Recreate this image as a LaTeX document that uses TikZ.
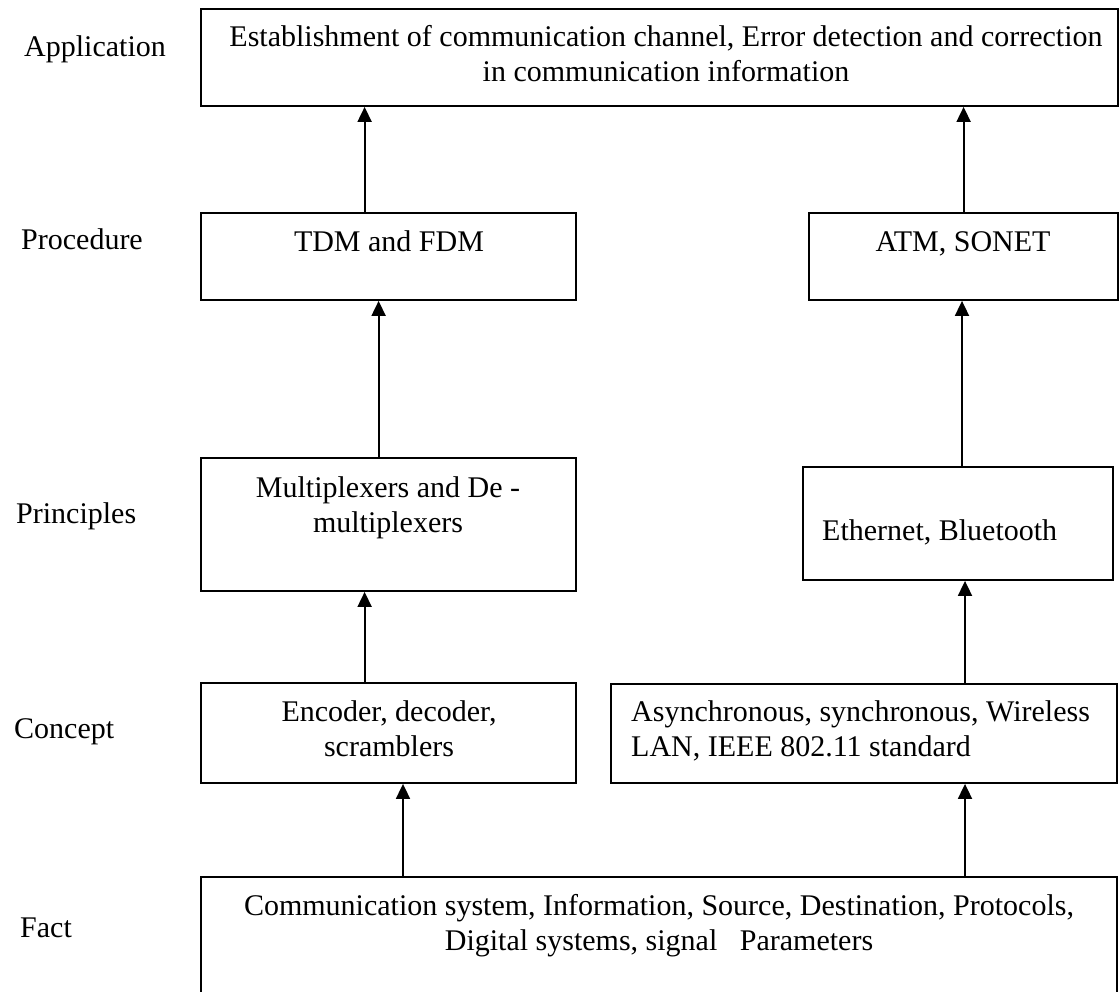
\documentclass[tikz,border=0pt]{standalone}
\usepackage{fontspec}
\setmainfont{Liberation Serif}
\usetikzlibrary{arrows.meta,fit}
\begin{document}
\begin{tikzpicture}[x=1pt,y=-1pt,
  box/.style={draw, line width=1.8pt, inner sep=0pt},
  txt/.style={font=\fontsize{30}{35}\selectfont, inner sep=0pt, align=center},
  lvl/.style={font=\fontsize{30}{35}\selectfont, inner sep=0pt, anchor=base west},
  arr/.style={-{Triangle[length=15pt,width=14pt]}, line width=1.8pt}]
\clip (0,0) rectangle (1120,992);
\fill[white] (0,0) rectangle (1120,992);

% boxes of the hierarchy
\node[box, fit={(201,9) (1118,106)}]   (app)  {};
\node[box, fit={(201,213) (576,300)}]  (tdm)  {};
\node[box, fit={(809,213) (1118,300)}] (atm)  {};
\node[box, fit={(201,458) (576,591)}]  (mux)  {};
\node[box, fit={(803,467) (1113,580)}] (eth)  {};
\node[box, fit={(201,683) (576,783)}]  (enc)  {};
\node[box, fit={(611,684) (1117,783)}] (asy)  {};
\node[box, fit={(201,877) (1117,1000)}] (fact) {};

% box texts (base anchor = baseline of the last line)
\node[txt, anchor=base] (appT) at (666,82)
  {Establishment of communication channel, Error detection and correction\\in communication information};
\node[txt, anchor=base] (tdmT) at (389,252) {TDM and FDM};
\node[txt, anchor=base] (atmT) at (963,252) {ATM, SONET};
\node[txt, anchor=base] (muxT) at (388,532) {Multiplexers and De -\\multiplexers};
\node[txt, anchor=base west] (ethT) at (822,540) {Ethernet, Bluetooth};
\node[txt, anchor=base] (encT) at (389,756) {Encoder, decoder,\\scramblers};
\node[txt, align=left, anchor=base west] (asyT) at (631,756)
  {Asynchronous, synchronous, Wireless\\LAN, IEEE 802.11 standard};
\node[txt, anchor=base] (factT) at (659,950)
  {Communication system, Information, Source, Destination, Protocols,\\Digital systems, signal\ \ \ Parameters};

% level names
\node[lvl] (lApp)  at (24,57)  {Application};
\node[lvl] (lProc) at (21,250) {Procedure};
\node[lvl] (lPrin) at (16,523) {Principles};
\node[lvl] (lCon)  at (14,738) {Concept};
\node[lvl] (lFact) at (20,937) {Fact};

% connector columns
\coordinate (xa) at (364.6,0);
\coordinate (xb) at (378.6,0);
\coordinate (xc) at (403,0);
\coordinate (xd) at (963.6,0);
\coordinate (xe) at (962,0);
\coordinate (xf) at (965,0);

\draw[arr] (fact.north -| xc) -- (enc.south -| xc);
\draw[arr] (enc.north -| xa) -- (mux.south -| xa);
\draw[arr] (mux.north -| xb) -- (tdm.south -| xb);
\draw[arr] (tdm.north -| xa) -- (app.south -| xa);
\draw[arr] (fact.north -| xf) -- (asy.south -| xf);
\draw[arr] (asy.north -| xf) -- (eth.south -| xf);
\draw[arr] (eth.north -| xe) -- (atm.south -| xe);
\draw[arr] (atm.north -| xd) -- (app.south -| xd);
\end{tikzpicture}
\end{document}
